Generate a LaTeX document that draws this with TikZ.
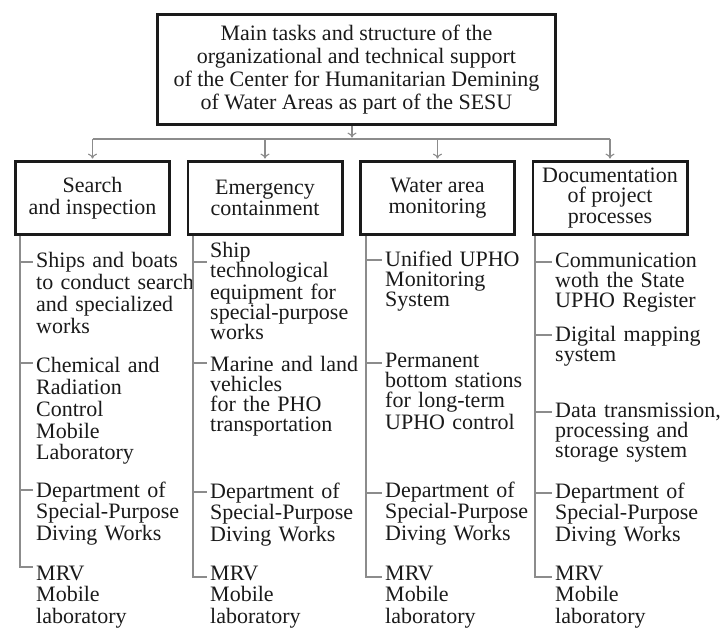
\documentclass[tikz,border=0pt]{standalone}
\usepackage{fontspec}
\setmainfont{Liberation Serif}
\usetikzlibrary{arrows.meta}
\definecolor{ink}{HTML}{1A1A1A}
\definecolor{wire}{HTML}{8C8C8C}
\tikzset{
  topbox/.style={draw=ink, line width=3.4pt, minimum width=397.6pt, minimum height=109.6pt,
    align=center, inner sep=0pt, text=ink, font=\fontsize{22pt}{23pt}\selectfont},
  taskbox/.style={draw=ink, line width=2.6pt, minimum width=154.4pt, minimum height=73.4pt,
    align=center, inner sep=0pt, text=ink, font=\fontsize{22pt}{21.5pt}\selectfont},
  leaf/.style={anchor=base west, text width=175pt, align=left, inner sep=0pt, text=ink,
    font=\fontsize{22pt}{21.7pt}\selectfont},
  leafnarrow/.style={leaf, font=\fontsize{22pt}{20pt}\selectfont},
  wireline/.style={draw=wire, line width=1.1pt},
  feed/.style={wireline, -{To[length=5pt,width=9pt]}, shorten >=1.4pt},
  tick/.style={wireline, shorten >=3pt},
}
\begin{document}
\begin{tikzpicture}[x=1pt,y=-1pt]
\useasboundingbox (0,0) rectangle (721,628);

% head box and the four task boxes
\node[topbox] (top) at (356.5,69.5)
  {Main tasks and structure of the\\organizational and technical support\\of the Center for Humanitarian Demining\\of Water Areas as part of the SESU};
\node[taskbox] (c1) at (92.5,198) {Search\\and inspection};
\node[taskbox] (c2) at (265,198) {Emergency\\containment};
\node[taskbox] (c3) at (437.5,198) {Water area\\monitoring};
\node[taskbox, font=\fontsize{22pt}{20.5pt}\selectfont] (c4) at (610,198) {Documentation\\of project\\processes};

% distribution bus
\coordinate (hub) at (352,139);
\draw[feed] (top.south -| hub) -- (hub);
\draw[wireline] (hub -| c1) -- (hub -| c4);
\foreach \c in {c1,c2,c3,c4}
  \draw[feed] (hub -| \c) -- (\c.north);

% column 1
\node[leaf] (l11) at (36,268) {Ships and boats\\to conduct search\\and specialized\\works};
\node[leaf] (l12) at (36,373) {Chemical and\\Radiation\\Control\\Mobile\\Laboratory};
\node[leaf] (l13) at (36,497) {Department of\\Special-Purpose\\Diving Works};
\node[leaf] (l14) at (36,580) {MRV\\Mobile\\laboratory};
\coordinate (t11) at (20,262);
\coordinate (t12) at (20,363);
\coordinate (t13) at (20,490);
\coordinate (t14) at (20,567);

% column 2
\node[leafnarrow] (l21) at (210,258) {Ship\\technological\\equipment for\\special-purpose\\works};
\node[leafnarrow] (l22) at (210,372) {Marine and land\\vehicles\\for the PHO\\transportation};
\node[leaf] (l23) at (210,498) {Department of\\Special-Purpose\\Diving Works};
\node[leaf] (l24) at (210,580) {MRV\\Mobile\\laboratory};
\coordinate (t21) at (193,262);
\coordinate (t22) at (193,363);
\coordinate (t23) at (193,492);
\coordinate (t24) at (193,577);

% column 3
\node[leafnarrow] (l31) at (385,267) {Unified UPHO\\Monitoring\\System};
\node[leafnarrow] (l32) at (385,368) {Permanent\\bottom stations\\for long-term\\UPHO control};
\node[leaf] (l33) at (385,497) {Department of\\Special-Purpose\\Diving Works};
\node[leaf] (l34) at (385,580) {MRV\\Mobile\\laboratory};
\coordinate (t31) at (366,260);
\coordinate (t32) at (366,363);
\coordinate (t33) at (366,493);
\coordinate (t34) at (366,577);

% column 4
\node[leafnarrow] (l41) at (555,268) {Communication\\woth the State\\UPHO Register};
\node[leafnarrow] (l42) at (555,342) {Digital mapping\\system};
\node[leafnarrow] (l43) at (555,418) {Data transmission,\\processing and\\storage system};
\node[leaf] (l44) at (555,498) {Department of\\Special-Purpose\\Diving Works};
\node[leaf] (l45) at (555,580) {MRV\\Mobile\\laboratory};
\coordinate (t41) at (535,262);
\coordinate (t42) at (535,335);
\coordinate (t43) at (535,412);
\coordinate (t44) at (535,493);
\coordinate (t45) at (535,577);

% trunks, each ending in a corner at its last item
\draw[tick] (c1.south -| t11) -- (t14) -- (t14 -| l14.west);
\draw[tick] (c2.south -| t21) -- (t24) -- (t24 -| l24.west);
\draw[tick] (c3.south -| t31) -- (t34) -- (t34 -| l34.west);
\draw[tick] (c4.south -| t41) -- (t45) -- (t45 -| l45.west);

% item ticks
\foreach \t/\l in {t11/l11,t12/l12,t13/l13,t21/l21,t22/l22,t23/l23,
                   t31/l31,t32/l32,t33/l33,t41/l41,t42/l42,t43/l43,t44/l44}
  \draw[tick] (\t) -- (\t -| \l.west);
\end{tikzpicture}
\end{document}
